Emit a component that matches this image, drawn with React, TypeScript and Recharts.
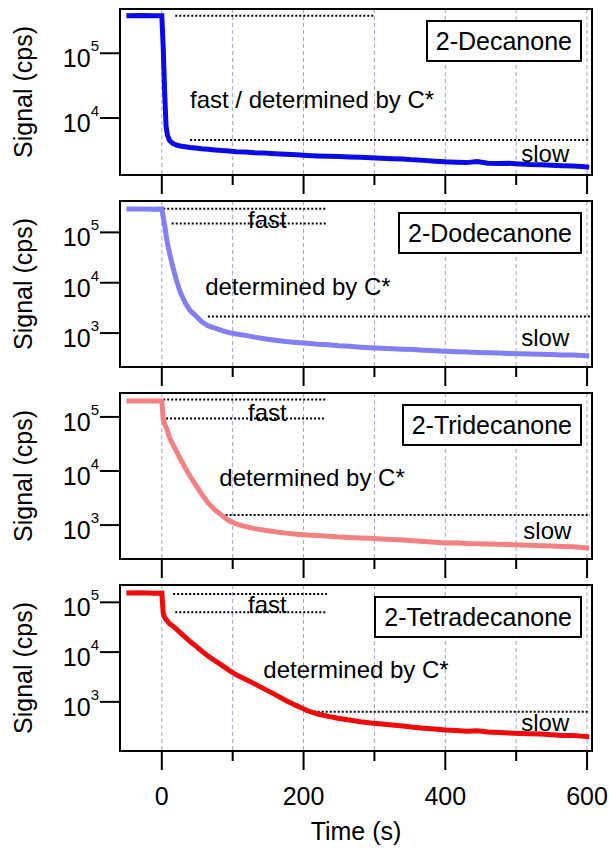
import React from 'react';
import { LineChart, Line, XAxis, YAxis, CartesianGrid, ReferenceLine, ReferenceDot, ReferenceArea } from 'recharts';

// time in s, shared by all four traces
const TIME = [-50, -30, -10, 0, 2, 4, 6, 8, 11, 15, 20, 26, 33, 40, 48, 56, 65, 75, 85, 95, 105, 118, 131, 145, 160, 175, 190, 205, 220, 235, 250, 265, 280, 295, 310, 325, 340, 355, 370, 385, 400, 415, 430, 445, 460, 475, 490, 505, 520, 535, 550, 565, 580, 592, 603];

// signal in cps
const DECANONE = [380000, 382000, 378000, 380000, 120000, 25000, 7500, 5400, 4500, 4100, 3850, 3700, 3600, 3500, 3450, 3350, 3300, 3220, 3150, 3100, 3020, 3000, 2920, 2880, 2820, 2760, 2700, 2640, 2600, 2580, 2540, 2500, 2470, 2440, 2400, 2360, 2330, 2260, 2220, 2160, 2110, 2080, 2050, 2130, 2010, 1990, 2000, 1950, 1910, 1900, 1870, 1840, 1810, 1790, 1740];
const DODECANONE = [290000, 292000, 288000, 292000, 200000, 140000, 90000, 60000, 38000, 22000, 12000, 6500, 4000, 2800, 2200, 1700, 1400, 1250, 1120, 1020, 960, 900, 830, 770, 720, 680, 650, 625, 600, 585, 560, 545, 525, 510, 500, 490, 478, 470, 455, 445, 435, 428, 420, 412, 405, 402, 395, 390, 384, 380, 376, 368, 366, 360, 356];
const TRIDECANONE = [197000, 198000, 196000, 197000, 90000, 75000, 65000, 55000, 41000, 32000, 24000, 17000, 11500, 8000, 5500, 3800, 2600, 1900, 1500, 1200, 1050, 940, 860, 800, 750, 710, 680, 655, 640, 620, 600, 590, 578, 568, 555, 540, 530, 512, 496, 480, 466, 470, 455, 450, 446, 440, 436, 430, 424, 416, 410, 402, 396, 386, 376];
const TETRADECANONE = [154000, 155000, 153000, 154000, 60000, 50000, 45000, 42000, 37000, 34000, 29500, 24500, 20000, 16300, 13200, 10600, 8400, 6700, 5400, 4300, 3500, 2850, 2300, 1800, 1400, 1070, 840, 670, 570, 510, 465, 432, 400, 376, 360, 342, 326, 310, 296, 285, 272, 266, 258, 262, 248, 242, 236, 232, 228, 225, 218, 212, 210, 205, 200];

const COMPOUNDS = ['2-Decanone', '2-Dodecanone', '2-Tridecanone', '2-Tetradecanone'];
const X_TICKS = [0, 100, 200, 300, 400, 500, 600];
const X_LABELS = [0, 200, 400, 600];

const X_DOMAIN: [number, number] = [-59, 607];
const FONT = '"Liberation Sans", Arial, Helvetica, sans-serif';
const PLOT_H = 166;
const PAD = 4;
const DOTS = '2 2';

const rows = TIME.map((t, i) => ({
  t,
  dec: DECANONE[i],
  dod: DODECANONE[i],
  tri: TRIDECANONE[i],
  tet: TETRADECANONE[i],
}));

const panels = [
  {
    key: 'dec', name: COMPOUNDS[0], color: '#0b0be8', top: 9,
    domain: [1320, 482000], yTicks: [1e4, 1e5],
    dotted: [[19, 300, 380000], [40, 604, 4600]],
    notes: [[212, 19500, 'fast / determined by C*'], [541, 2830, 'slow']],
  },
  {
    key: 'dod', name: COMPOUNDS[1], color: '#8080f2', top: 201,
    domain: [212, 420000], yTicks: [1e3, 1e4, 1e5],
    dotted: [[2, 232, 295000], [14, 232, 150000], [65, 604, 2130]],
    notes: [[149, 183000, 'fast'], [192, 8300, 'determined by C*'], [541, 807, 'slow']],
  },
  {
    key: 'tri', name: COMPOUNDS[2], color: '#f28282', top: 393,
    domain: [236, 277000], yTicks: [1e3, 1e4, 1e5],
    dotted: [[2, 233, 210000], [6, 230, 93400], [90, 604, 1530]],
    notes: [[149, 119000, 'fast'], [212, 7550, 'determined by C*'], [544, 794, 'slow']],
  },
  {
    key: 'tet', name: COMPOUNDS[3], color: '#f00a0a', top: 585,
    domain: [103, 223000], yTicks: [1e3, 1e4, 1e5],
    dotted: [[16, 233, 147000], [19, 233, 63000], [203, 604, 631]],
    notes: [[149, 90000, 'fast'], [274, 4500, 'determined by C*'], [541, 384, 'slow']],
  },
];

function YTick({ x, y, payload }: any) {
  const exp = Math.round(Math.log10(payload.value));
  return (
    <text x={x} y={y + 14} textAnchor="end" fontSize={25} fill="#000">
      10<tspan dy={-16} fontSize={15}>{exp}</tspan>
    </text>
  );
}

const makeXTick = (showLabels: boolean) => ({ x, y, payload }: any) => {
  const major = X_LABELS.includes(payload.value);
  return (
    <g>
      <line x1={x} x2={x} y1={y} y2={y + (major ? 19 : 10)} stroke="#000" strokeWidth={2} />
      {showLabels && major && (
        <text x={x} y={y + 54} textAnchor="middle" fontSize={25} fill="#000">{payload.value}</text>
      )}
    </g>
  );
};

function Panel({ p, last }: { p: any; last: boolean }) {
  const axisH = last ? 95 : 22;
  return (
    <div style={{ position: 'absolute', left: 0, top: p.top - PAD, width: 609 }}>
      <LineChart width={609} height={PAD + PLOT_H + axisH} data={rows} margin={{ top: PAD, right: 17, left: 0, bottom: 0 }}>
        <CartesianGrid horizontal={false} stroke="#a0a0d8" strokeDasharray="4 3" />
        <XAxis
          dataKey="t" type="number" domain={X_DOMAIN} ticks={X_TICKS} interval={0} allowDataOverflow
          axisLine={false} tickLine={false} tickSize={0} tickMargin={0} height={axisH}
          tick={makeXTick(last)}
          label={last ? { value: 'Time (s)', position: 'insideBottom', offset: 6, fontSize: 25, fill: '#000' } : undefined}
        />
        <YAxis
          type="number" scale="log" domain={p.domain} ticks={p.yTicks} interval={0} allowDataOverflow
          width={120} axisLine={false} tickSize={20} tickMargin={1}
          tickLine={{ stroke: '#000', strokeWidth: 2 }} tick={<YTick />}
        />
        <ReferenceArea x1={X_DOMAIN[0]} x2={X_DOMAIN[1]} y1={p.domain[0]} y2={p.domain[1]} fill="none" fillOpacity={0} stroke="#000" strokeWidth={2} />
        {p.dotted.map(([x1, x2, y]: number[], i: number) => (
          <ReferenceLine key={'d' + i} segment={[{ x: x1, y }, { x: x2, y }]} stroke="#000" strokeWidth={2} strokeDasharray={DOTS} />
        ))}
        <Line type="linear" dataKey={p.key} stroke={p.color} strokeWidth={5} dot={false} isAnimationActive={false} />
        {p.notes.map(([x, y, text]: any[], i: number) => (
          <ReferenceDot
            key={'n' + i} x={x} y={y} r={0} fill="none" stroke="none"
            label={{ value: text, position: 'center', fontSize: 24, fill: '#000' }}
          />
        ))}
      </LineChart>
      <div
        style={{
          position: 'absolute', right: 27, top: PAD + 11, height: 38, lineHeight: '38px',
          padding: '0 8px', border: '2px solid #000', background: '#fff', fontSize: 25, whiteSpace: 'nowrap',
        }}
      >
        {p.name}
      </div>
      <div
        style={{
          position: 'absolute', left: 23, top: PAD + PLOT_H / 2, transform: 'translate(-50%, -50%) rotate(-90deg)',
          whiteSpace: 'nowrap', fontSize: 25, lineHeight: 1,
        }}
      >
        Signal (cps)
      </div>
    </div>
  );
}

export default function App() {
  return (
    <div style={{ position: 'absolute', left: 0, top: 0, width: 609, height: 848, background: '#fff', fontFamily: FONT, color: '#000' }}>
      {panels.map((p, i) => (
        <Panel key={p.key} p={p} last={i === panels.length - 1} />
      ))}
    </div>
  );
}
